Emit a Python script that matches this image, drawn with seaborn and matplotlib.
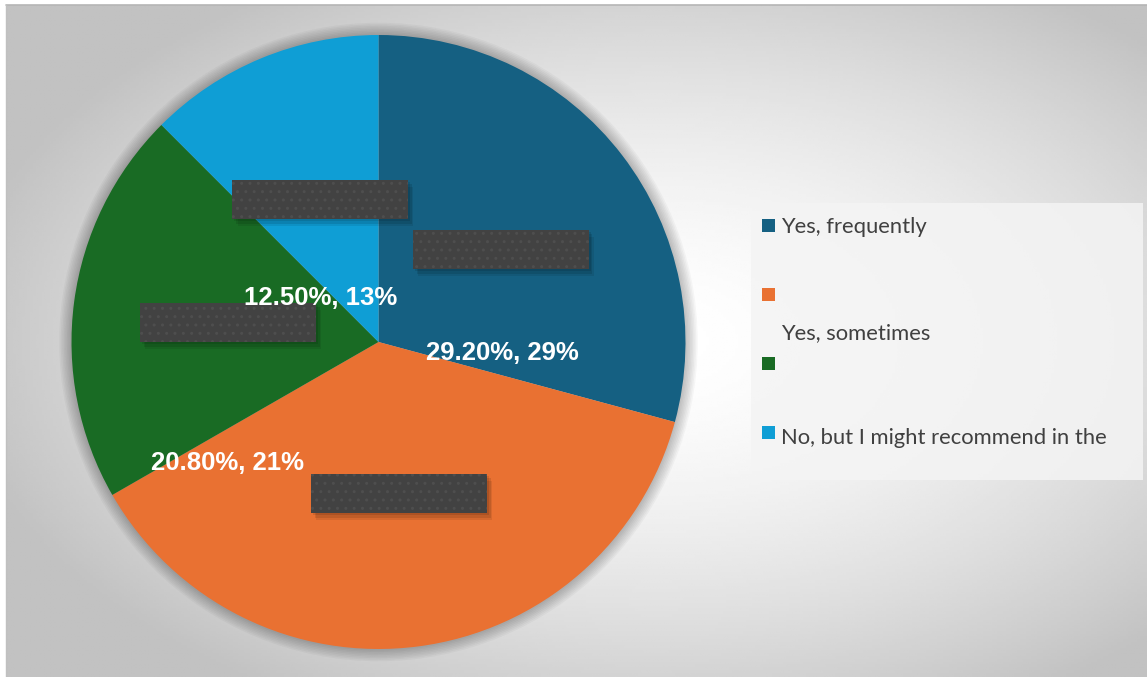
import numpy as np
import matplotlib
matplotlib.use("Agg")
import matplotlib.pyplot as plt
import seaborn as sns
from matplotlib.patches import Rectangle, Circle

# ============================================================================
# DATA
# ============================================================================

categories = ["Yes, frequently", "Yes, sometimes", "", "No, but I might recommend in the"]
shares = [29.2, 37.5, 20.8, 12.5]
label_texts = ["29.20%, 29%", "", "20.80%, 21%", "12.50%, 13%"]
slice_colors = ["#156082", "#E97132", "#196B24", "#0F9ED5"]

# ============================================================================
# FIGURE
# ============================================================================

sns.set_style("white")
palette = sns.color_palette(slice_colors)

W, H = 1147, 677
fig = plt.figure(figsize=(W / 100, H / 100), dpi=100)
fig.patch.set_facecolor("white")


def px(x, y):
    """pixel (from top-left) -> figure fraction"""
    return x / W, 1 - y / H


# background panel with radial gradient
bg = fig.add_axes([6 / W, 0, (W - 6) / W, (H - 5) / H])
gx, gy = np.meshgrid(np.linspace(0, 1, 400), np.linspace(0, 1, 240))
d = np.sqrt(((gx - 0.57) / 0.62) ** 2 + ((gy - 0.5) / 0.62) ** 2)
shade = 1.0 - 0.24 * np.clip(d, 0, 1) ** 1.6
bg.imshow(shade, cmap="gray", vmin=0, vmax=1, aspect="auto", extent=[0, 1, 0, 1])
bg.set_axis_off()
fig.add_artist(plt.Line2D([6 / W, 1], [1 - 5 / H, 1 - 5 / H], color="#b5b5b5", lw=1.2))
fig.add_artist(plt.Line2D([6 / W, 6 / W], [0, 1 - 5 / H], color="#c0c0c0", lw=1.0))

# pie
cx, cy, r = 378.5, 342, 307
ax = fig.add_axes([(cx - r) / W, (H - cy - r) / H, 2 * r / W, 2 * r / H])
ax.set_axis_off()

# soft halo around the pie
for k in range(8):
    ax.add_patch(Circle((0, 0), 1.0 + 0.005 * (k + 1), color="black",
                        alpha=0.03, lw=0, zorder=0, clip_on=False))

ax.pie(shares, colors=palette, startangle=90, counterclock=False, radius=1.0,
       wedgeprops=dict(linewidth=0))
ax.set_xlim(-1, 1)
ax.set_ylim(-1, 1)
ax.set_aspect("equal")

# hidden label placeholders (dark textured boxes)
boxes = [(-0.477, 0.401), (0.112, 0.238), (-0.777, 0.0), (-0.220, -0.557)]
bw, bh = 0.573, 0.128
for bx, by in boxes:
    for k, a in enumerate([0.10, 0.10, 0.08]):
        off = 0.006 * (k + 1)
        ax.add_patch(Rectangle((bx + off, by - off * 1.3), bw, bh, facecolor="black",
                               alpha=a, lw=0, zorder=3))
    ax.add_patch(Rectangle((bx, by), bw, bh, facecolor="#424242", edgecolor="#4e4e4e",
                           hatch="..", lw=0, zorder=4))

# data labels
label_pos = [(0.402, -0.036), None, (-0.493, -0.394), (-0.19, 0.143)]
for txt, pos in zip(label_texts, label_pos):
    if pos is None or not txt:
        continue
    ax.text(pos[0], pos[1], txt, color="white", fontsize=18.5, fontweight="bold",
            family="Liberation Sans", ha="center", va="center", zorder=6)

# legend panel
lx0, ly0, lx1, ly1 = 751, 203, 1143, 480
fig.add_artist(Rectangle(px(lx0, ly1), (lx1 - lx0) / W, (ly1 - ly0) / H,
                         transform=fig.transFigure, facecolor="#f4f4f4",
                         alpha=0.85, lw=0))

marker_y = [225.5, 294.5, 363.5, 432]
text_y = [227, 333, None, 438]
ms = 13
for name, col, my, ty in zip(categories, slice_colors, marker_y, text_y):
    fig.add_artist(Rectangle(px(762, my + ms / 2), ms / W, ms / H,
                             transform=fig.transFigure, facecolor=col, lw=0))
    if ty is not None and name:
        fig.text(*px(781, ty), name, fontsize=15.8, color="#404040",
                 family="Lato", ha="left", va="center")

fig.savefig("out.png", dpi=100)
